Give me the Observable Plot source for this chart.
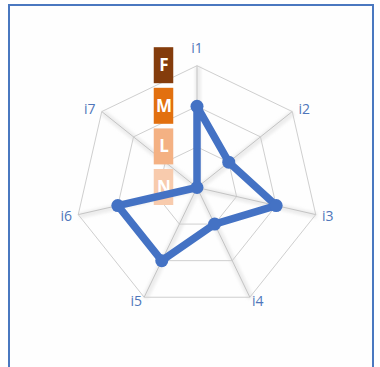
<!DOCTYPE html>
<html>
<head>
<meta charset="utf-8">
<script src="https://cdn.jsdelivr.net/npm/d3@7"></script>
<script src="https://cdn.jsdelivr.net/npm/@observablehq/plot@0.6"></script>
<style>
  html, body { margin: 0; padding: 0; background: #ffffff; }
  #wrap { position: relative; width: 380px; height: 367px; overflow: hidden; }
  #frame { position: absolute; left: 8px; top: 4px; width: 366px; height: 380px;
           border: 2.5px solid #4a78c0; border-bottom: none; background: #fefefe; box-sizing: border-box; }
  #chart { position: absolute; left: 0; top: 0; }
</style>
</head>
<body>
<div id="wrap"><div id="frame"></div><div id="chart"></div></div>
<script>
// ---- data ----
const axes = ["i1", "i2", "i3", "i4", "i5", "i6", "i7"];
const values = [2, 1, 2, 1, 2, 2, 0];
const levels = [0, 1, 2, 3];
const levelLabels = ["N", "L", "M", "F"];
const levelColors = ["#f8cbad", "#f4b183", "#e2700f", "#843c0c"];

// ---- layout ----
const W = 380, H = 367;
const cx = 196.5, cy = 187;        // centre in px
const k = 40.6;                     // px per level
const maxLevel = 3;
const n = axes.length;
const ang = i => 2 * Math.PI * i / n;
const px = (r, i) => r * Math.sin(ang(i));
const py = (r, i) => r * Math.cos(ang(i));

// rings
const rings = [];
for (const L of [1, 2, 3]) {
  for (let i = 0; i < n; i++) {
    rings.push({L, x1: px(L, i), y1: py(L, i), x2: px(L, (i + 1) % n), y2: py(L, (i + 1) % n)});
  }
}
// spokes
const spokes = axes.map((a, i) => ({x1: 0, y1: 0, x2: px(maxLevel, i), y2: py(maxLevel, i)}));
// series points
const pts = axes.map((a, i) => ({axis: a, v: values[i], x: px(values[i], i), y: py(values[i], i)}));
// axis labels
const labOff = i => {
  const s = Math.sin(ang(i)), c = Math.cos(ang(i));
  if (c > 0.95) return [0, 17];
  if (c < -0.5) return [8 * Math.sign(s), -4];
  return [12 * Math.sign(s), 2 * Math.sign(c)];
};
const labels = axes.map((a, i) => {
  const [ox, oy] = labOff(i);
  return {t: a, x: px(maxLevel, i) + ox / k, y: py(maxLevel, i) + oy / k};
});
// level tick boxes
const tickX = -33 / k, boxW = 19.5 / k, boxH = 36 / k;
const ticks = levels.map((L, j) => ({L, t: levelLabels[j], c: levelColors[j],
  x1: tickX - boxW / 2, x2: tickX + boxW / 2, y1: L - boxH / 2, y2: L + boxH / 2, x: tickX, y: L}));

const chart = Plot.plot({
  width: W, height: H,
  margin: 0,
  style: {background: "transparent", fontFamily: "'Open Sans', sans-serif"},
  x: {domain: [-cx / k, (W - cx) / k], axis: null},
  y: {domain: [-(H - cy) / k, cy / k], axis: null},
  marks: [
    Plot.link(spokes, {x1: "x1", y1: "y1", x2: "x2", y2: "y2", stroke: "#d8d8d8", strokeWidth: 6, dx: 1, dy: 1, strokeOpacity: 0.45, className: "shadow"}),
    Plot.link(rings, {x1: "x1", y1: "y1", x2: "x2", y2: "y2", stroke: "#cfcfcf", strokeWidth: 1}),
    Plot.link(spokes, {x1: "x1", y1: "y1", x2: "x2", y2: "y2", stroke: "#c4c4c4", strokeWidth: 1}),
    Plot.rect(ticks, {x1: "x1", x2: "x2", y1: "y1", y2: "y2", fill: "c"}),
    Plot.text(ticks, {x: "x", y: "y", text: "t", fill: "#ffffff", fontSize: 17, fontWeight: "bold", fontFamily: "'Open Sans', sans-serif"}),
    Plot.line(pts, {x: "x", y: "y", curve: "linear-closed", stroke: "#4472c4", strokeWidth: 7.5, strokeLinejoin: "round"}),
    Plot.dot(pts, {x: "x", y: "y", r: 6.5, fill: "#4472c4"}),
    Plot.text(labels, {x: "x", y: "y", text: "t", fill: "#4f76ba", fontSize: 14})
  ]
});
// soften spoke shadows
const svg = d3.select(chart);
const defs = svg.insert("defs", ":first-child");
defs.append("filter").attr("id", "blur").attr("x", "-20%").attr("y", "-20%").attr("width", "140%").attr("height", "140%")
  .append("feGaussianBlur").attr("stdDeviation", 1.6);
svg.selectAll("g.shadow").attr("filter", "url(#blur)");
document.getElementById("chart").appendChild(chart);
</script>
</body>
</html>
